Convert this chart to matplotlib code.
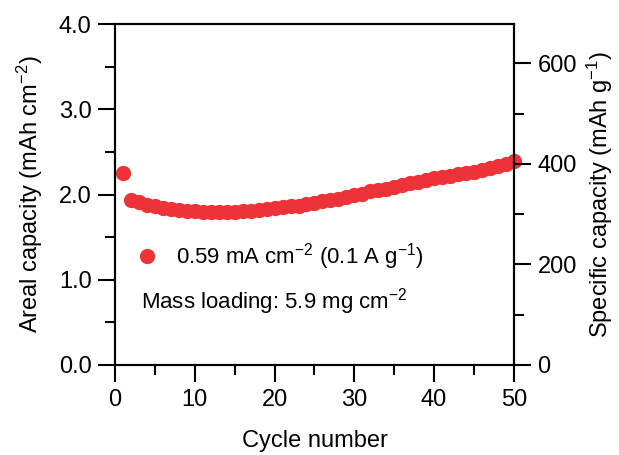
import matplotlib
matplotlib.use("Agg")
import matplotlib.pyplot as plt
from matplotlib.ticker import MultipleLocator

plt.rcParams['font.family'] = ['Liberation Sans', 'DejaVu Sans']
plt.rcParams['mathtext.default'] = 'regular'

mass_loading = 5.9  # mg cm-2

cycles = list(range(1, 51))
areal = [2.25, 1.94, 1.91, 1.88, 1.86, 1.84, 1.83, 1.82, 1.81, 1.81,
         1.80, 1.80, 1.80, 1.80, 1.80, 1.81, 1.81, 1.82, 1.83, 1.84,
         1.85, 1.86, 1.87, 1.89, 1.90, 1.92, 1.93, 1.95, 1.97, 1.99,
         2.01, 2.04, 2.05, 2.07, 2.09, 2.11, 2.13, 2.15, 2.17, 2.19,
         2.20, 2.22, 2.24, 2.25, 2.27, 2.29, 2.31, 2.34, 2.36, 2.39]

red = '#ee3338'
fs = 17

fig = plt.figure(figsize=(6.19, 4.55), dpi=100)
ax = fig.add_axes([0.186, 0.198, 0.644, 0.749])

ax.plot(cycles, areal, 'o', color=red, markersize=11, markeredgewidth=0,
        label='0.59 mA cm$^{-2}$ (0.1 A g$^{-1}$)', clip_on=False)

ax.set_xlim(0, 50)
ax.set_ylim(0, 4.0)
ax.xaxis.set_major_locator(MultipleLocator(10))
ax.xaxis.set_minor_locator(MultipleLocator(5))
ax.yaxis.set_major_locator(MultipleLocator(1.0))
ax.yaxis.set_minor_locator(MultipleLocator(0.5))
ax.yaxis.set_major_formatter(plt.FormatStrFormatter('%.1f'))
ax.set_xlabel('Cycle number', fontsize=fs, labelpad=14)
ax.set_ylabel('Areal capacity (mAh cm$^{-2}$)', fontsize=fs, labelpad=10)

ax2 = ax.twinx()
ax2.set_ylim(0, 4.0 / mass_loading * 1000)
ax2.yaxis.set_major_locator(MultipleLocator(200))
ax2.yaxis.set_minor_locator(MultipleLocator(100))
ax2.set_ylabel('Specific capacity (mAh g$^{-1}$)', fontsize=fs, labelpad=6)

for a in (ax, ax2):
    for s in a.spines.values():
        s.set_linewidth(1.5)
    a.tick_params(which='major', direction='out', length=12, width=1.5,
                  labelsize=fs, pad=5)
    a.tick_params(which='minor', direction='out', length=7, width=1.5)
ax.tick_params(axis='x', which='both', top=False)

ax.legend(loc='center left', bbox_to_anchor=(0.025, 0.317), frameon=False,
          fontsize=16, handletextpad=0.8, borderpad=0, handlelength=1.0)
ax.text(0.065, 0.185, 'Mass loading: 5.9 mg cm$^{-2}$', transform=ax.transAxes,
        fontsize=16, va='center', ha='left')

fig.savefig('out.png', dpi=100)
